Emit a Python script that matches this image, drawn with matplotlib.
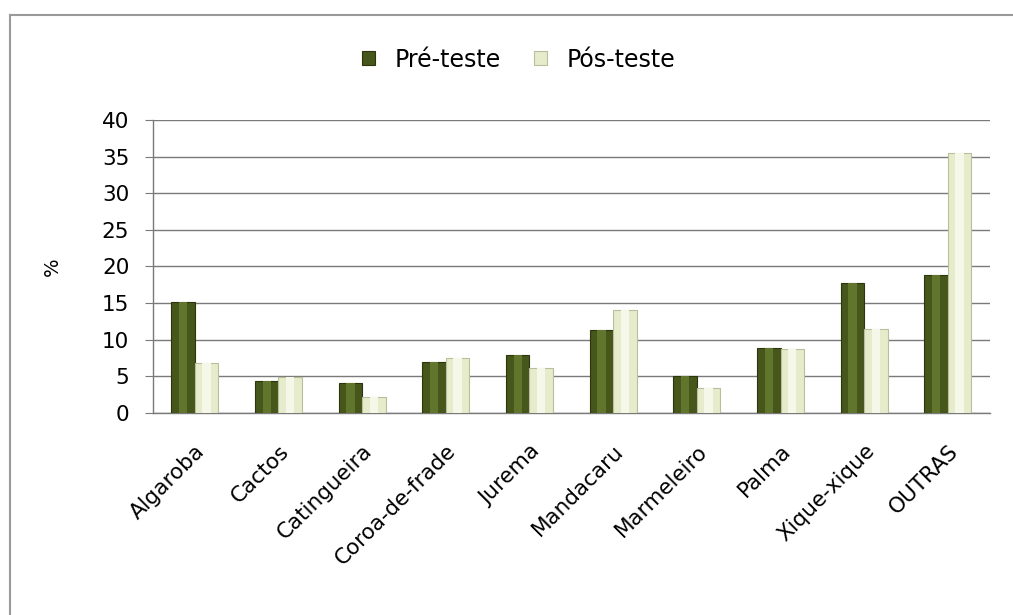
import numpy as np
import matplotlib
matplotlib.use("Agg")
import matplotlib.pyplot as plt
from matplotlib.lines import Line2D

# ===============================
# Data
# ===============================
categories = ["Algaroba", "Cactos", "Catingueira", "Coroa-de-frade", "Jurema",
              "Mandacaru", "Marmeleiro", "Palma", "Xique-xique", "OUTRAS"]
pre_teste = [15.1, 4.4, 4.1, 7.0, 7.9, 11.3, 5.0, 8.9, 17.7, 18.8]
pos_teste = [6.8, 4.9, 2.2, 7.5, 6.2, 14.0, 3.4, 8.7, 11.4, 35.5]
series_names = ["Pré-teste", "Pós-teste"]
y_ticks = [0, 5, 10, 15, 20, 25, 30, 35, 40]

plt.rcParams["font.family"] = ["DejaVu Sans"]

fig = plt.figure(figsize=(10.13, 6.15), dpi=100)
ax = fig.add_axes([0.151, 0.3285, 0.826, 0.4764])

x = np.arange(len(categories))
w = 0.28

# bars: flat fill plus a lighter centre strip for the cylinder look
ax.bar(x - w / 2, pre_teste, w, color="#47561a", edgecolor="#2c360c",
       linewidth=0.8, zorder=3, label=series_names[0])
ax.bar(x - w / 2, pre_teste, w * 0.35, color="#62752c", linewidth=0, zorder=4)
ax.bar(x + w / 2, pos_teste, w, color="#e6ebcc", edgecolor="#b9bf9c",
       linewidth=0.8, zorder=3, label=series_names[1])
ax.bar(x + w / 2, pos_teste, w * 0.35, color="#f5f8e8", linewidth=0, zorder=4)

ax.set_xlim(-0.5, len(categories) - 0.5)
ax.set_ylim(0, 40)
ax.set_yticks(y_ticks)
ax.yaxis.grid(True, color="#7a7a7a", linewidth=1.0, zorder=0)
ax.set_axisbelow(True)

for side in ["top", "right"]:
    ax.spines[side].set_visible(False)
for side in ["left", "bottom"]:
    ax.spines[side].set_color("#7a7a7a")
    ax.spines[side].set_linewidth(1.0)

ax.tick_params(axis="y", length=6, color="#7a7a7a", labelsize=15.5, pad=11)
ax.tick_params(axis="x", length=0, labelsize=15.5, pad=20)
ax.set_xticks(x)
ax.set_xticklabels(categories, rotation=45, ha="right", rotation_mode="anchor")
ax.set_ylabel("%", fontsize=14)
ax.yaxis.set_label_coords(-0.109, 0.5)

leg = fig.legend(loc="center", bbox_to_anchor=(0.512, 0.903), ncol=2,
                 frameon=False, fontsize=17, handlelength=0.55,
                 handleheight=0.55, handletextpad=0.85, columnspacing=1.4)

# outer chart frame
fig.add_artist(Line2D([0.01, 1.0], [0.976, 0.976], color="#9a9a9a", lw=1.5))
fig.add_artist(Line2D([0.01, 0.01], [0.0, 0.976], color="#9a9a9a", lw=1.5))

fig.savefig("out.png", dpi=100)
